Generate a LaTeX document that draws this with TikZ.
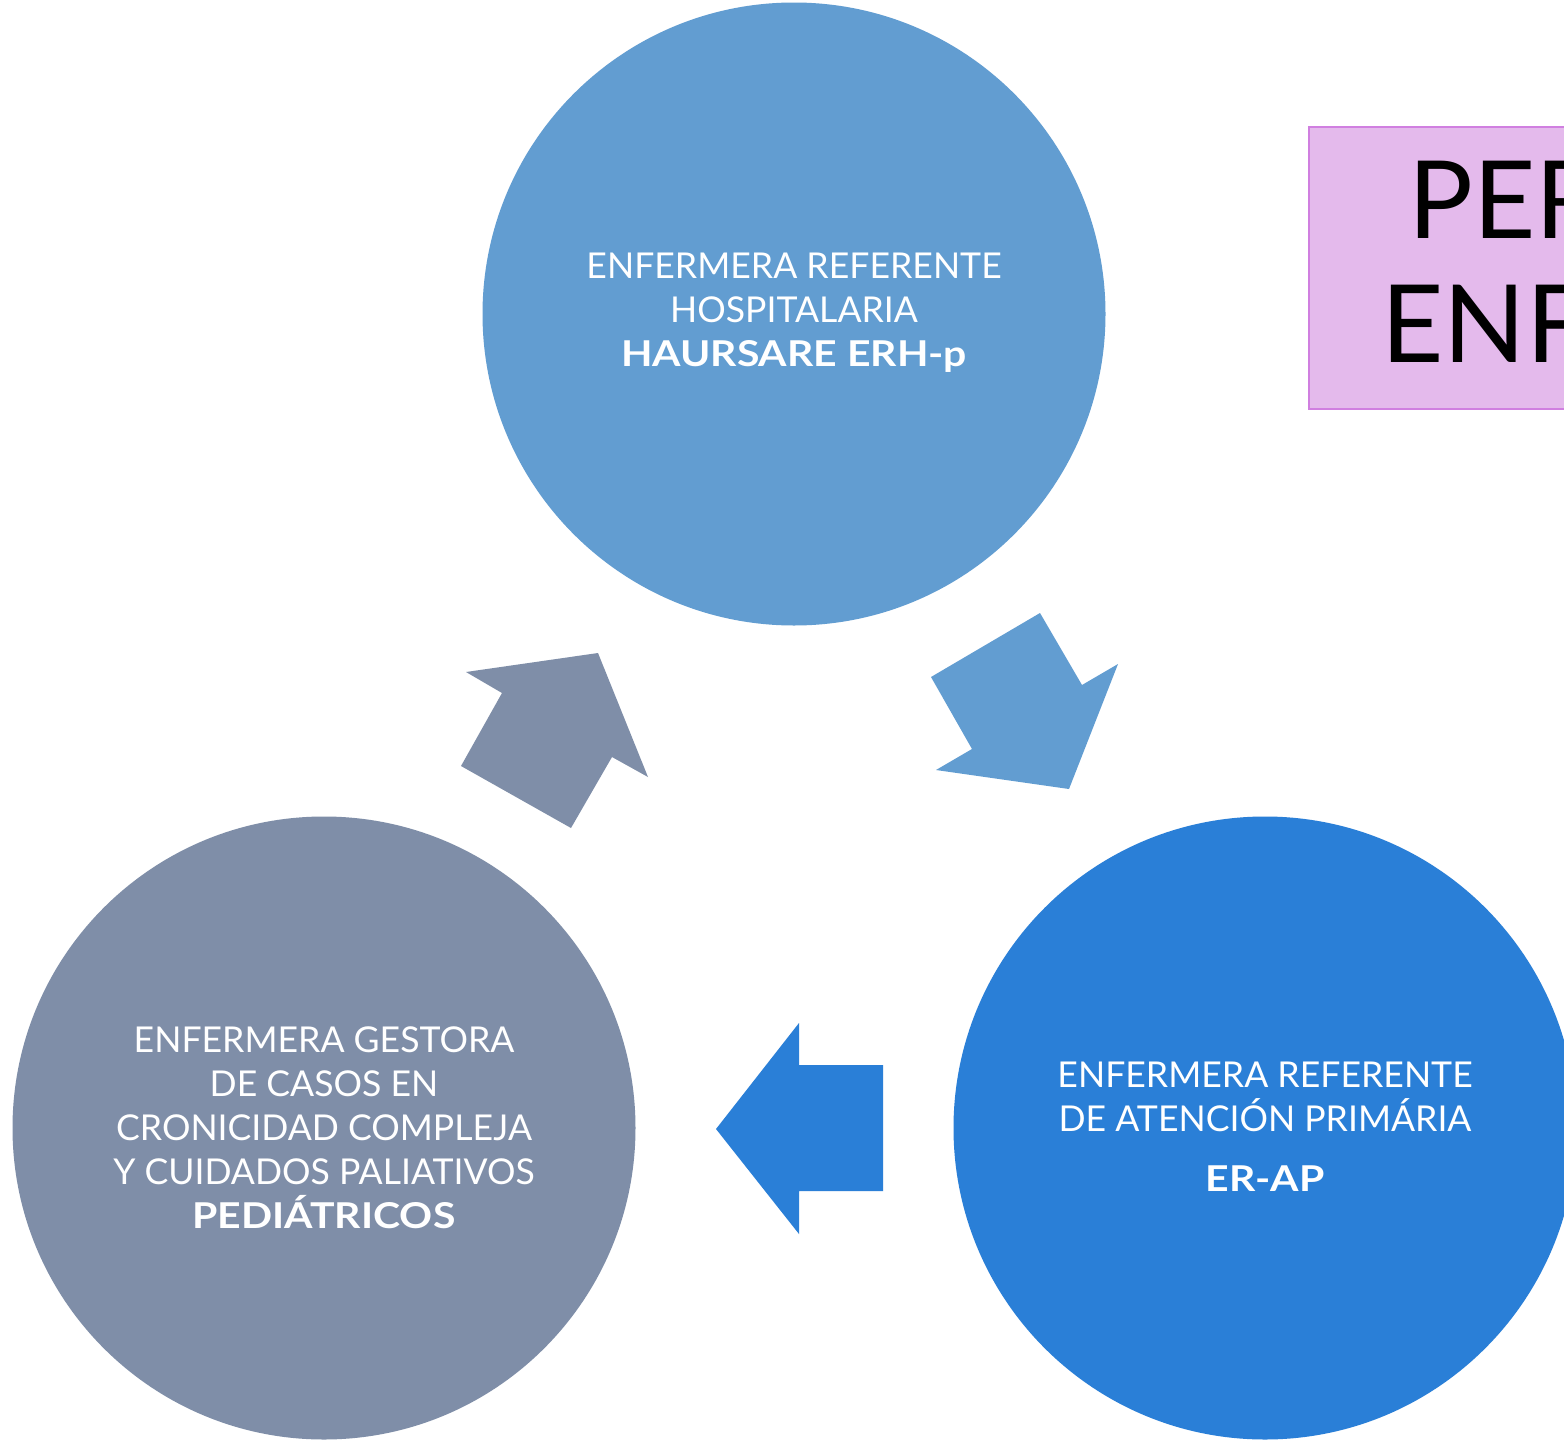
\documentclass[tikz,border=0pt]{standalone}
\usepackage{fontspec}
\setmainfont{Lato}
\definecolor{ctop}{HTML}{629DD1}
\definecolor{cleft}{HTML}{7F8EA8}
\definecolor{cright}{HTML}{2A7FD7}
\definecolor{pinkfill}{HTML}{E4BAEC}
\definecolor{pinkline}{HTML}{D07FE0}
\newcommand{\wb}[1]{\scalebox{1.15}[1]{\textbf{#1}}}
\tikzset{
  circ/.style={circle, minimum size=623pt*0.5, inner sep=0pt, draw=none},
  ctext/.style={text=white, align=center, font=\fontsize{17.8}{22}\selectfont},
  bigtext/.style={anchor=base west, font=\fontsize{54}{60}\selectfont, text=black, inner sep=0pt},
}
\begin{document}
\begin{tikzpicture}[x=0.5pt,y=-0.5pt]
\useasboundingbox (0,0) rectangle (1564,1440);
\clip (0,0) rectangle (1564,1440);
\fill[white] (0,0) rectangle (1564,1440);
% circles
\node[circ, fill=ctop] (top) at (794,314) {};
\node[circ, fill=cleft] (left) at (324,1128) {};
\node[circ, fill=cright] (right) at (1265,1128) {};
% texts
\node[ctext] (ttop) at (794,313) {ENFERMERA REFERENTE\\HOSPITALARIA\\\wb{HAURSARE ERH-p}};
\node[ctext] (tleft) at (324,1128) {ENFERMERA GESTORA\\DE CASOS EN\\CRONICIDAD COMPLEJA\\Y CUIDADOS PALIATIVOS\\\wb{PEDIÁTRICOS}};
\node[ctext] (tright) at (1265,1127) {ENFERMERA REFERENTE\\DE ATENCIÓN PRIMÁRIA\\[8pt]\wb{ER-AP}};
% arrows
\fill[cleft] (466,672) -- (598,653) -- (648,777) -- (612,757) -- (571,828) -- (461,766) -- (502,693) -- cycle;
\fill[ctop] (931,677) -- (1040,613) -- (1082,685) -- (1118,664) -- (1069,789) -- (936,770) -- (972,749) -- cycle;
\fill[cright] (716,1129) -- (799,1023) -- (799,1065) -- (883,1065) -- (883,1191) -- (799,1191) -- (799,1234) -- cycle;
% title box
\draw[pinkline, fill=pinkfill, line width=1pt] (1309,127) rectangle (1600,409);
\node[bigtext] (t1) at (1408,238) {PER};
\node[bigtext] (t2) at (1381,362) {ENF};
\end{tikzpicture}
\end{document}
